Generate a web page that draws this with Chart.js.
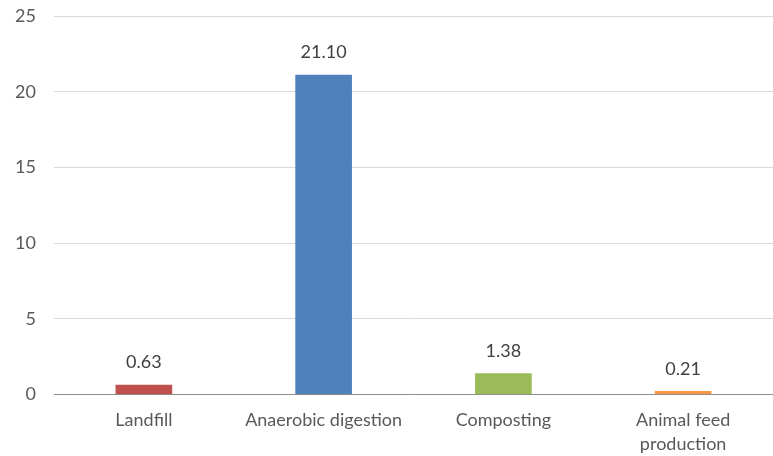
<!DOCTYPE html>
<html>
<head>
<meta charset="utf-8">
<script src="https://cdn.jsdelivr.net/npm/chart.js@4/dist/chart.umd.min.js"></script>
<style>
  html, body { margin: 0; padding: 0; background: #ffffff; }
  #wrap { width: 773px; height: 456px; position: relative; }
</style>
</head>
<body>
<div id="wrap"><canvas id="chart"></canvas></div>
<script>
// Treatment options and their values
const categories = ['Landfill', 'Anaerobic digestion', 'Composting', ['Animal feed', 'production']];
const values = [0.63, 21.10, 1.38, 0.21];
const barColors = ['#C0504D', '#4F81BD', '#9BBB59', '#F79646'];
const yTicks = [0, 5, 10, 15, 20, 25];

const FONT = 'Lato, "Open Sans", "Liberation Sans", sans-serif';

// Writes each bar's value above it, two decimals
const valueLabels = {
  id: 'valueLabels',
  afterDatasetsDraw(chart) {
    const ctx = chart.ctx;
    const meta = chart.getDatasetMeta(0);
    ctx.save();
    ctx.font = '18px ' + FONT;
    ctx.fillStyle = '#404040';
    ctx.textAlign = 'center';
    ctx.textBaseline = 'middle';
    meta.data.forEach((bar, i) => {
      ctx.fillText(values[i].toFixed(2), bar.x, bar.y - 22.5);
    });
    ctx.restore();
  }
};

new Chart(document.getElementById('chart'), {
  type: 'bar',
  data: {
    labels: categories,
    datasets: [{
      data: values,
      backgroundColor: barColors,
      borderWidth: 0,
      barThickness: 56
    }]
  },
  options: {
    responsive: true,
    maintainAspectRatio: false,
    animation: false,
    layout: { padding: { top: 16, right: 0, left: 0, bottom: 0 } },
    plugins: {
      legend: { display: false },
      tooltip: { enabled: false }
    },
    scales: {
      x: {
        grid: { display: false, drawTicks: false },
        border: { display: false },
        ticks: {
          color: '#595959',
          font: { family: FONT, size: 18, lineHeight: 1.33 },
          padding: 14,
          maxRotation: 0,
          autoSkip: false
        },
        afterFit(scale) { scale.height = 61.5; scale.paddingLeft = 0; scale.paddingRight = 0; }
      },
      y: {
        min: 0,
        max: 25,
        afterBuildTicks(scale) { scale.ticks = yTicks.map(v => ({ value: v })); },
        grid: {
          drawTicks: false,
          lineWidth: 1,
          color: (c) => (c.tick && c.tick.value === 0 ? '#8C8C8C' : '#D9D9D9')
        },
        border: { display: false },
        ticks: {
          color: '#595959',
          font: { family: FONT, size: 18 },
          padding: 18
        },
        afterFit(scale) { scale.width = 54; scale.paddingTop = 0; scale.paddingBottom = 0; }
      }
    }
  },
  plugins: [valueLabels]
});
</script>
</body>
</html>
